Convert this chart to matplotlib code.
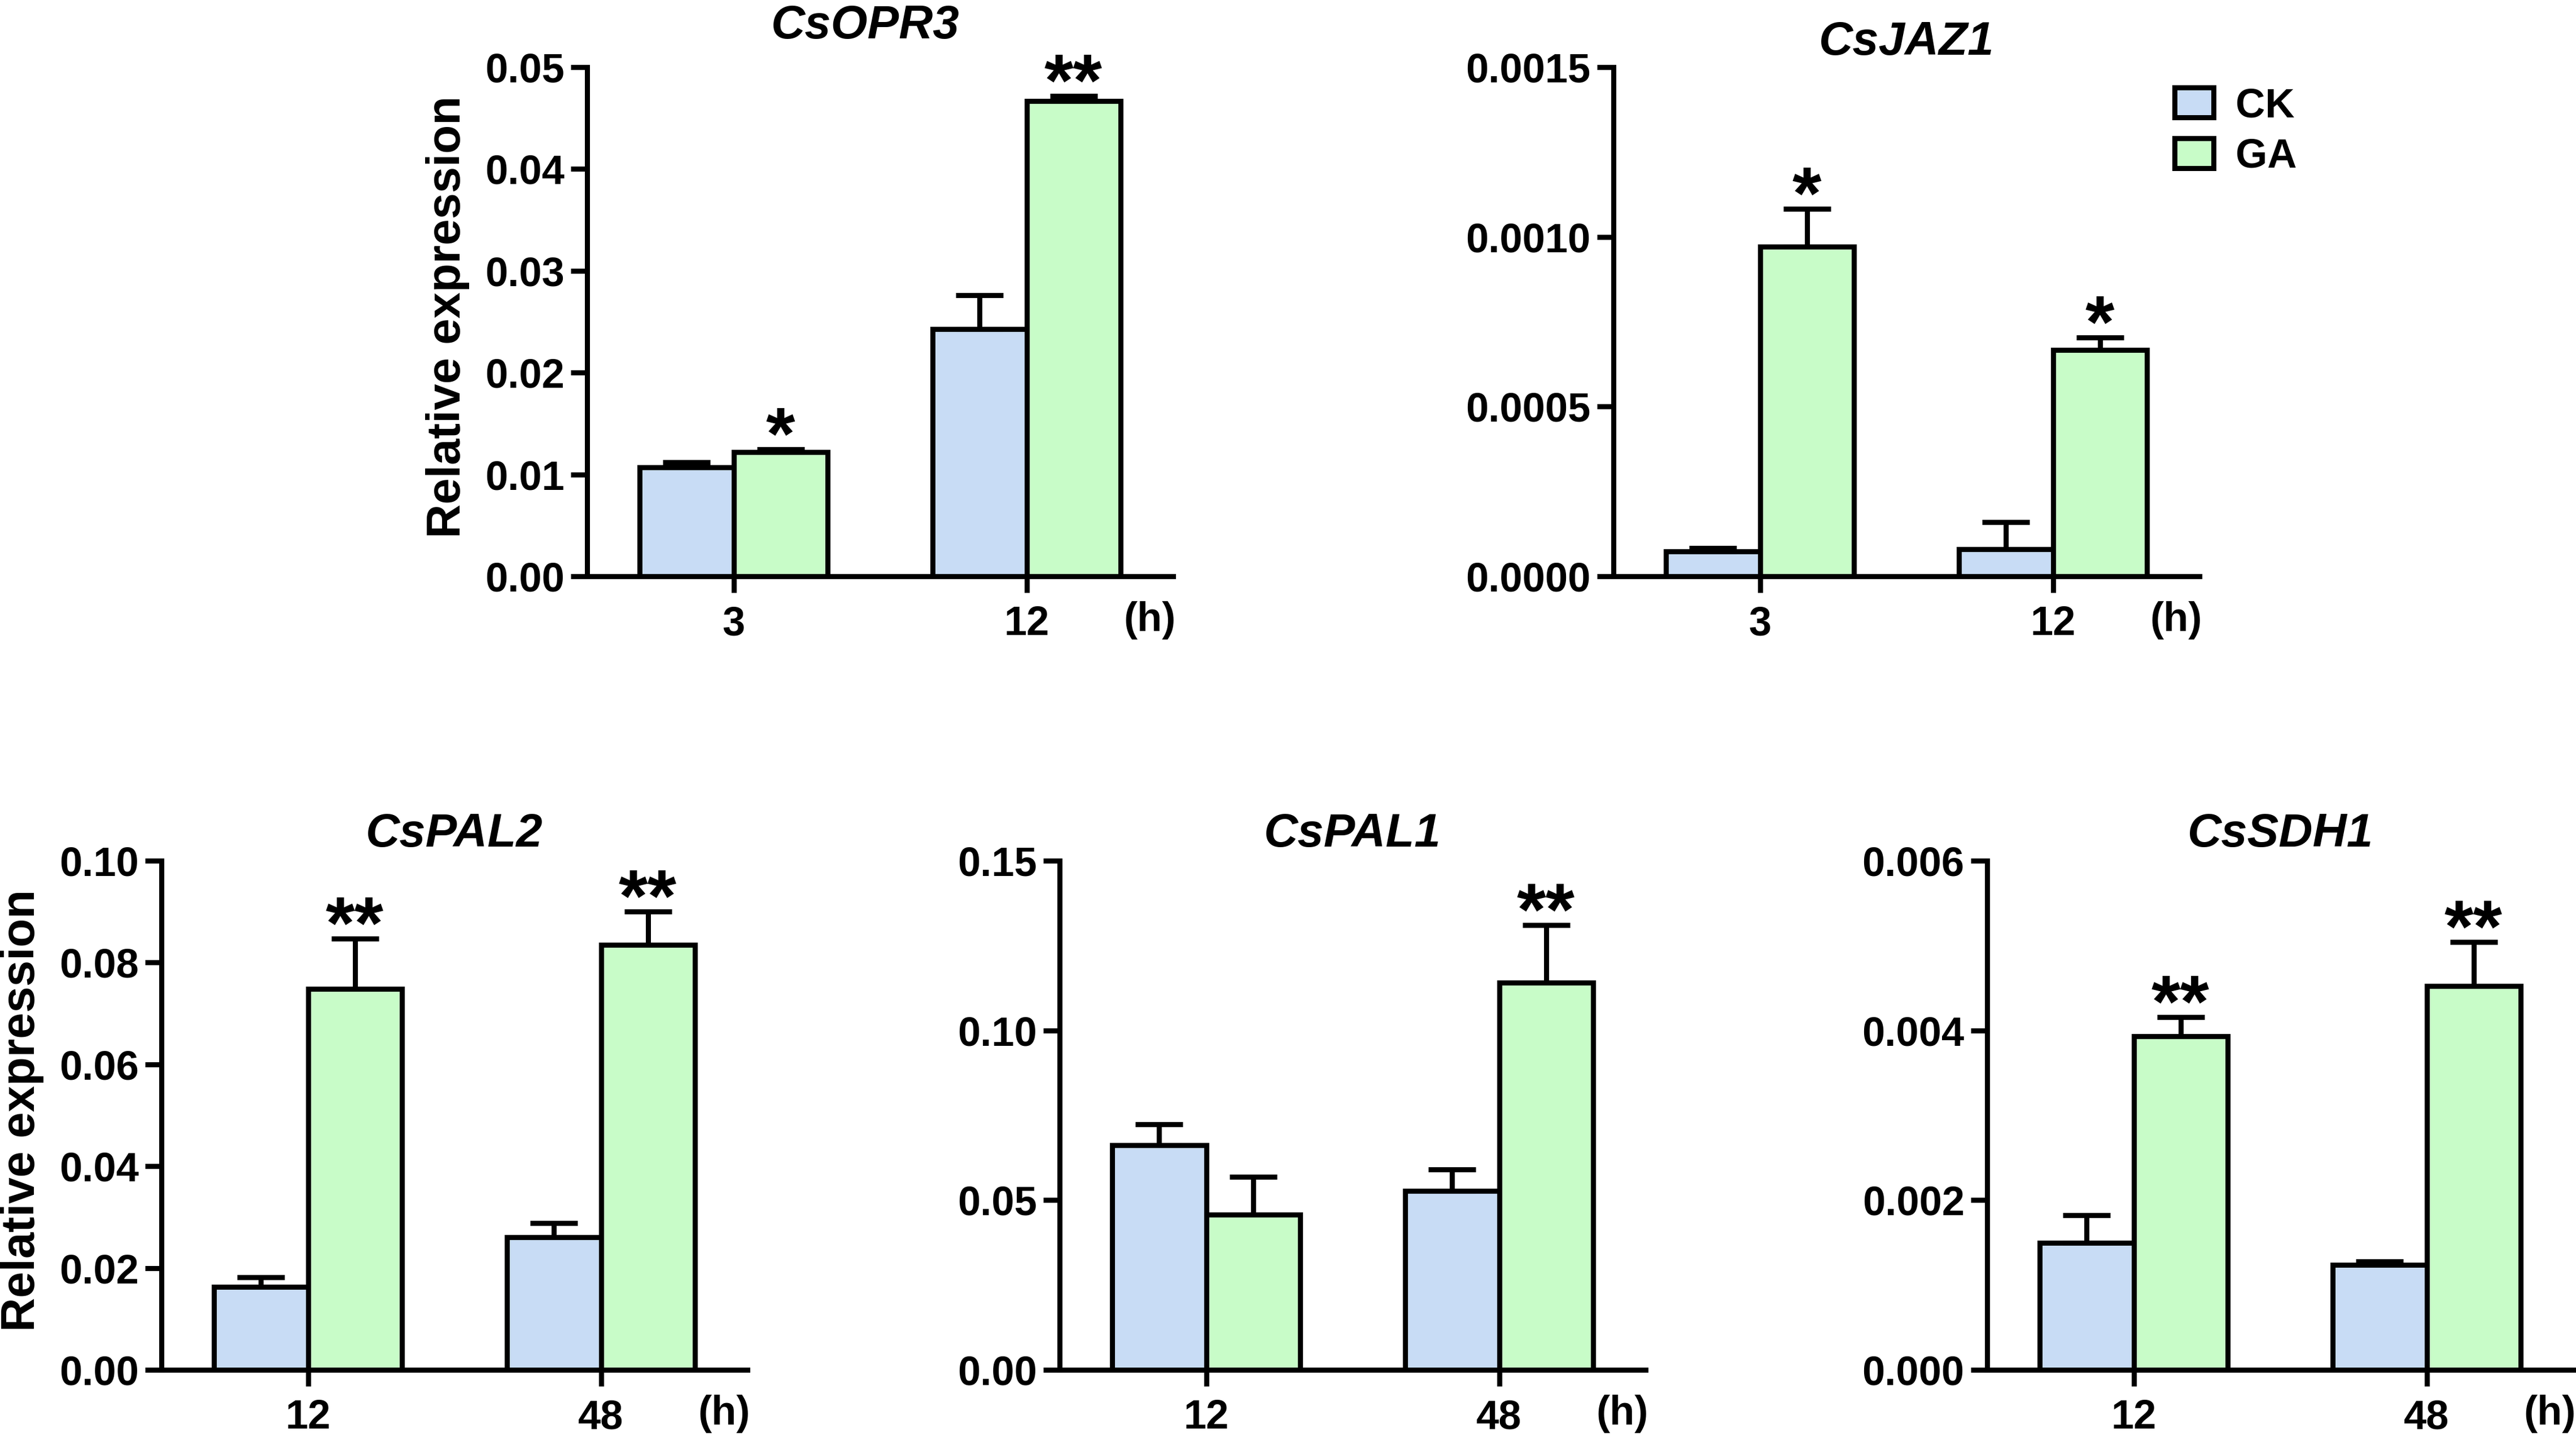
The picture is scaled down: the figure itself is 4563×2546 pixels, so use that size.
import numpy as np
import matplotlib
matplotlib.use("Agg")
import matplotlib.pyplot as plt
from matplotlib.ticker import FormatStrFormatter

plt.rcParams['font.family'] = ['Liberation Sans', 'DejaVu Sans']
plt.rcParams['font.weight'] = 'bold'
plt.rcParams['axes.labelweight'] = 'bold'
plt.rcParams['axes.titleweight'] = 'bold'

# colours for the two treatments
ck_color = "#C8DCF5"
ga_color = "#C8FCC8"

# CsOPR3
opr3_times = ["3", "12"]
opr3_ck = [0.0107, 0.0243]
opr3_ck_err = [0.0005, 0.0033]
opr3_ga = [0.0122, 0.0467]
opr3_ga_err = [0.0003, 0.0005]
opr3_stars = ["*", "**"]

# CsJAZ1
jaz1_times = ["3", "12"]
jaz1_ck = [0.000074, 0.000080]
jaz1_ck_err = [0.000009, 0.000079]
jaz1_ga = [0.000972, 0.000667]
jaz1_ga_err = [0.000111, 0.000036]
jaz1_stars = ["*", "*"]

# CsPAL2
pal2_times = ["12", "48"]
pal2_ck = [0.0163, 0.0260]
pal2_ck_err = [0.0019, 0.0028]
pal2_ga = [0.0748, 0.0835]
pal2_ga_err = [0.0099, 0.0065]
pal2_stars = ["**", "**"]

# CsPAL1
pal1_times = ["12", "48"]
pal1_ck = [0.0662, 0.0527]
pal1_ck_err = [0.0061, 0.0063]
pal1_ga = [0.0457, 0.1140]
pal1_ga_err = [0.0112, 0.0171]
pal1_stars = ["", "**"]

# CsSDH1
sdh1_times = ["12", "48"]
sdh1_ck = [0.00150, 0.00124]
sdh1_ck_err = [0.00032, 0.00004]
sdh1_ga = [0.00393, 0.00452]
sdh1_ga_err = [0.00023, 0.00052]
sdh1_stars = ["**", "**"]

W, H = 4563, 2546
fig = plt.figure(figsize=(W / 100, H / 100), dpi=100)

# left, top pixel of each axes, y range, ticks, title pad and title x
panels = [
    ("CsOPR3", opr3_times, opr3_ck, opr3_ck_err, opr3_ga, opr3_ga_err, opr3_stars,
     1040, 119, 0.05, 0.01, "%.2f", 37, 0.475, True),
    ("CsJAZ1", jaz1_times, jaz1_ck, jaz1_ck_err, jaz1_ga, jaz1_ga_err, jaz1_stars,
     2858, 119, 0.0015, 0.0005, "%.4f", 16, 0.5, False),
    ("CsPAL2", pal2_times, pal2_ck, pal2_ck_err, pal2_ga, pal2_ga_err, pal2_stars,
     286, 1525, 0.10, 0.02, "%.2f", 18, 0.5, True),
    ("CsPAL1", pal1_times, pal1_ck, pal1_ck_err, pal1_ga, pal1_ga_err, pal1_stars,
     1877, 1525, 0.15, 0.05, "%.2f", 18, 0.5, False),
    ("CsSDH1", sdh1_times, sdh1_ck, sdh1_ck_err, sdh1_ga, sdh1_ga_err, sdh1_stars,
     3520, 1525, 0.006, 0.002, "%.3f", 18, 0.5, False),
]

ax_w, ax_h = 1038, 902
lw = 6.5
w = 0.32

for (name, times, ck, ck_err, ga, ga_err, stars,
     left, top, ymax, ystep, fmt, tpad, tx, ylab) in panels:
    ax = fig.add_axes([left / W, 1 - (top + ax_h) / H, ax_w / W, ax_h / H])
    x = np.arange(len(times))
    ck_bars = ax.bar(x - w / 2, ck, w, color=ck_color, edgecolor="black",
                     linewidth=lw, zorder=2, label="CK")
    ga_bars = ax.bar(x + w / 2, ga, w, color=ga_color, edgecolor="black",
                     linewidth=lw, zorder=2, label="GA")
    ax.errorbar(x - w / 2, ck, yerr=[np.zeros(len(ck)), ck_err], fmt="none",
                ecolor="black", elinewidth=lw, capsize=30, capthick=lw, zorder=3)
    ax.errorbar(x + w / 2, ga, yerr=[np.zeros(len(ga)), ga_err], fmt="none",
                ecolor="black", elinewidth=lw, capsize=30, capthick=lw, zorder=3)

    # significance marks above the GA bars
    for xi, v, e, s in zip(x + w / 2, ga, ga_err, stars):
        if s:
            ax.annotate(s, xy=(xi, v + e), xytext=(0, -13), textcoords="offset points",
                        ha="center", va="baseline", fontsize=95, fontweight="bold")

    ax.set_xlim(-0.5, 1.5)
    ax.set_ylim(0, ymax)
    ax.set_yticks(np.arange(0, ymax + ystep / 2, ystep))
    ax.yaxis.set_major_formatter(FormatStrFormatter(fmt))
    ax.set_xticks(x)
    ax.set_xticklabels(times)
    ax.spines["top"].set_visible(False)
    ax.spines["right"].set_visible(False)
    ax.spines["left"].set_linewidth(lw)
    ax.spines["bottom"].set_linewidth(lw)
    ax.tick_params(axis="both", width=lw, length=21, labelsize=52)
    ax.tick_params(axis="y", pad=8)
    ax.tick_params(axis="x", pad=16)
    for t in ax.get_xticklabels() + ax.get_yticklabels():
        t.set_fontweight("bold")

    ax.set_title(name, fontsize=60, fontstyle="italic", fontweight="bold", pad=tpad, x=tx)
    ax.text(1.42, -0.087, "(h)", transform=ax.get_xaxis_transform(),
            ha="center", va="center", fontsize=52, fontweight="bold")

    if ylab:
        ax.set_ylabel("Relative expression", fontsize=60, fontweight="bold", va="center")
        ax.yaxis.set_label_coords(-0.238, 0.51)

    if name == "CsJAZ1":
        ax.legend(handles=[ck_bars, ga_bars], loc="upper left",
                  bbox_to_anchor=(3852 / W, 1 - 154 / H), bbox_transform=fig.transFigure,
                  frameon=False, fontsize=52, borderpad=0, borderaxespad=0,
                  handlelength=0.95, handleheight=0.75, handletextpad=0.55,
                  labelspacing=0.3)

fig.savefig("out.png", dpi=100)
